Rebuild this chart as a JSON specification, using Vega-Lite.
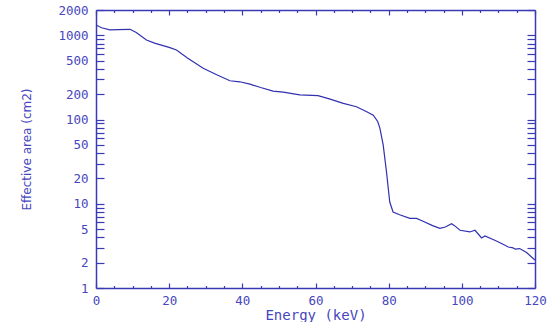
{
  "$schema": "https://vega.github.io/schema/vega-lite/v6.json",
  "width": 439,
  "height": 278,
  "autosize": {"type": "none"},
  "padding": {"left": 96, "top": 10, "right": 13, "bottom": 34},
  "background": "white",
  "config": {
    "view": {"stroke": null},
    "axis": {
      "domainColor": "#3a3ab4",
      "domainWidth": 1.5,
      "tickColor": "#3a3ab4",
      "tickWidth": 1.2,
      "labelColor": "#4646be",
      "titleColor": "#4646be",
      "labelFont": "DejaVu Sans Mono",
      "labelFontSize": 12.5,
      "titleFont": "DejaVu Sans Mono",
      "titleFontWeight": "normal",
      "grid": false
    }
  },
  "data": {
    "values": [
      {"energy": 0, "area": 1330},
      {"energy": 1.5, "area": 1230},
      {"energy": 3.8, "area": 1160},
      {"energy": 6, "area": 1170},
      {"energy": 9.3, "area": 1180},
      {"energy": 11, "area": 1080},
      {"energy": 13.8, "area": 881},
      {"energy": 16, "area": 810},
      {"energy": 20.2, "area": 714},
      {"energy": 22, "area": 670},
      {"energy": 25, "area": 540},
      {"energy": 29.3, "area": 406},
      {"energy": 33, "area": 340},
      {"energy": 36.6, "area": 289},
      {"energy": 39.3, "area": 281},
      {"energy": 42.1, "area": 264},
      {"energy": 45, "area": 240},
      {"energy": 48.4, "area": 218},
      {"energy": 51.2, "area": 212},
      {"energy": 55.7, "area": 196},
      {"energy": 60.7, "area": 192},
      {"energy": 64, "area": 175},
      {"energy": 67.6, "area": 156},
      {"energy": 71.2, "area": 142},
      {"energy": 74, "area": 124},
      {"energy": 75.8, "area": 113},
      {"energy": 77, "area": 95},
      {"energy": 77.6, "area": 79},
      {"energy": 78.5, "area": 50},
      {"energy": 79.4, "area": 24},
      {"energy": 80.3, "area": 10.5},
      {"energy": 81.2, "area": 8.0},
      {"energy": 83, "area": 7.4},
      {"energy": 85.8, "area": 6.7},
      {"energy": 87.6, "area": 6.7},
      {"energy": 89.4, "area": 6.2},
      {"energy": 92, "area": 5.5},
      {"energy": 94, "area": 5.1},
      {"energy": 95.5, "area": 5.3},
      {"energy": 97.2, "area": 5.8},
      {"energy": 98, "area": 5.5},
      {"energy": 99.5, "area": 4.85},
      {"energy": 102.2, "area": 4.63},
      {"energy": 103.6, "area": 4.85},
      {"energy": 105.4, "area": 3.93},
      {"energy": 106.3, "area": 4.15},
      {"energy": 109, "area": 3.69},
      {"energy": 111, "area": 3.35},
      {"energy": 112.7, "area": 3.07},
      {"energy": 114, "area": 2.99},
      {"energy": 114.6, "area": 2.89},
      {"energy": 115.8, "area": 2.94},
      {"energy": 117.7, "area": 2.64},
      {"energy": 119.5, "area": 2.24},
      {"energy": 120, "area": 2.15}
    ]
  },
  "layer": [
    {
      "mark": {"type": "line", "color": "#3030b0", "strokeWidth": 1.2, "clip": true},
      "encoding": {
        "x": {
          "field": "energy", "type": "quantitative",
          "scale": {"domain": [0, 120], "nice": false, "zero": false},
          "axis": {
            "orient": "bottom",
            "title": "Energy (keV)",
            "titleFontSize": 14,
            "titlePadding": -1,
            "values": [0,5,10,15,20,25,30,35,40,45,50,55,60,65,70,75,80,85,90,95,100,105,110,115,120],
            "labelExpr": "datum.value % 20 === 0 ? datum.value : ''",
            "tickSize": {"condition": {"test": "datum.value % 20 === 0", "value": -5}, "value": -2.5},
            "labelPadding": 11,
            "labelFlush": false,
            "labelOverlap": false
          }
        },
        "y": {
          "field": "area", "type": "quantitative",
          "scale": {"type": "log", "domain": [1, 2000], "nice": false},
          "axis": {
            "orient": "left",
            "title": "Effective area (cm2)",
            "titleFont": "DejaVu Sans",
            "titleFontSize": 12,
            "titlePadding": 24,
            "values": [1,2,3,4,5,6,7,8,9,10,20,30,40,50,60,70,80,90,100,200,300,400,500,600,700,800,900,1000,2000],
            "labelExpr": "indexof([1,2,5,10,20,50,100,200,500,1000,2000], datum.value) >= 0 ? datum.value : ''",
            "tickSize": -8,
            "labelPadding": 16,
            "labelOverlap": false,
            "labelFlush": false
          }
        }
      }
    },
    {
      "mark": {"type": "line", "opacity": 0},
      "encoding": {
        "x": {
          "field": "energy", "type": "quantitative",
          "axis": {
            "orient": "top",
            "title": null,
            "labels": false,
            "values": [0,5,10,15,20,25,30,35,40,45,50,55,60,65,70,75,80,85,90,95,100,105,110,115,120],
            "tickSize": {"condition": {"test": "datum.value % 20 === 0", "value": -5}, "value": -2.5}
          }
        },
        "y": {
          "field": "area", "type": "quantitative",
          "axis": {
            "orient": "right",
            "title": null,
            "labels": false,
            "values": [1,2,3,4,5,6,7,8,9,10,20,30,40,50,60,70,80,90,100,200,300,400,500,600,700,800,900,1000,2000],
            "tickSize": -8
          }
        }
      }
    }
  ],
  "resolve": {"axis": {"x": "independent", "y": "independent"}}
}
